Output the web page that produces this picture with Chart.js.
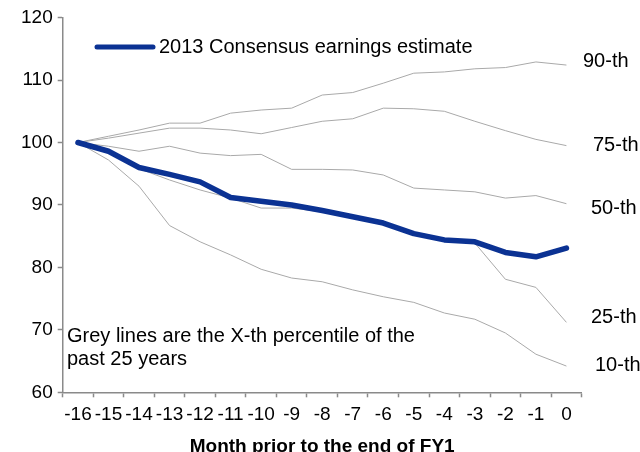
<!DOCTYPE html>
<html>
<head>
<meta charset="utf-8">
<script src="https://cdn.jsdelivr.net/npm/chart.js@4.4.1/dist/chart.umd.min.js"></script>
<style>
  html, body { margin: 0; padding: 0; background: #ffffff; }
  #wrap { width: 640px; height: 452px; }
</style>
</head>
<body>
<div id="wrap"><canvas id="c" width="640" height="452"></canvas></div>
<script>
// ---- Data ----
const months = ['-16','-15','-14','-13','-12','-11','-10','-9','-8','-7','-6','-5','-4','-3','-2','-1','0'];
const consensus2013 = [100, 98.6, 96.0, 94.9, 93.7, 91.2, 90.6, 90.0, 89.1, 88.1, 87.1, 85.4, 84.4, 84.1, 82.4, 81.7, 83.1];
const pct90 = [100, 101.0, 102.0, 103.1, 103.1, 104.7, 105.2, 105.5, 107.6, 108.0, 109.5, 111.1, 111.3, 111.8, 112.0, 112.9, 112.4];
const pct75 = [100, 100.7, 101.5, 102.3, 102.3, 102.0, 101.4, 102.4, 103.4, 103.8, 105.5, 105.4, 105.0, 103.4, 101.9, 100.5, 99.5];
const pct50 = [100, 99.4, 98.6, 99.4, 98.3, 97.9, 98.1, 95.7, 95.7, 95.6, 94.8, 92.7, 92.4, 92.1, 91.1, 91.5, 90.2];
const pct25 = [100, 98.3, 95.8, 94.0, 92.4, 91.1, 89.5, 89.5, 88.9, 87.9, 86.9, 85.2, 84.3, 83.9, 78.1, 76.8, 71.2];
const pct10 = [100, 97.2, 93.0, 86.7, 84.1, 82.0, 79.7, 78.3, 77.7, 76.4, 75.3, 74.4, 72.7, 71.7, 69.5, 66.1, 64.2];
const percentileNames = ['90-th', '75-th', '50-th', '25-th', '10-th'];
const legendText = '2013 Consensus earnings estimate';
const noteLines = ['Grey lines are the X-th percentile of the', 'past 25 years'];
const xTitle = 'Month prior to the end of FY1';
const yMin = 60, yMax = 120, yStep = 10;

// ---- Styles ----
const FONT = '"Liberation Sans", Arial, Helvetica, sans-serif';
const BLUE = '#0b3293';
const GREY = '#a9a9a9';
const AXIS = '#8a8a8a';

const greySet = (data) => ({
  data, borderColor: GREY, borderWidth: 1, pointRadius: 0, tension: 0, fill: false
});

// right-side label placement (value units on y scale, pixel x)
const labelPos = [
  { v: 112.9, x: 583 },
  { v: 99.5,  x: 593 },
  { v: 89.5,  x: 591 },
  { v: 72.0,  x: 591 },
  { v: 64.3,  x: 595 }
];

const annotations = {
  id: 'annotations',
  afterDatasetsDraw(chart) {
    const ctx = chart.ctx;
    const ys = chart.scales.y;
    ctx.save();
    ctx.fillStyle = '#000';
    ctx.textBaseline = 'middle';
    ctx.textAlign = 'left';
    ctx.font = '20px ' + FONT;
    percentileNames.forEach((t, i) => {
      ctx.fillText(t, labelPos[i].x, ys.getPixelForValue(labelPos[i].v));
    });
    // legend
    ctx.strokeStyle = BLUE;
    ctx.lineWidth = 5;
    ctx.lineCap = 'round';
    ctx.beginPath();
    ctx.moveTo(97, 47);
    ctx.lineTo(153, 47);
    ctx.stroke();
    ctx.fillText(legendText, 159, 47);
    // note
    ctx.fillText(noteLines[0], 67, 336.5);
    ctx.fillText(noteLines[1], 67, 359);
    ctx.restore();
  }
};

new Chart(document.getElementById('c'), {
  type: 'line',
  data: {
    labels: months,
    datasets: [
      { label: legendText, data: consensus2013, borderColor: BLUE, borderWidth: 5.5,
        pointRadius: 0, tension: 0, fill: false, borderJoinStyle: 'round', borderCapStyle: 'round' },
      greySet(pct90), greySet(pct75), greySet(pct50), greySet(pct25), greySet(pct10)
    ]
  },
  options: {
    responsive: false,
    animation: false,
    devicePixelRatio: 1,
    layout: { padding: { top: 17.6, right: 58.3, bottom: 0, left: 0 } },
    plugins: { legend: { display: false }, tooltip: { enabled: false } },
    scales: {
      x: {
        type: 'category',
        offset: true,
        grid: { display: true, drawOnChartArea: false, offset: true, drawTicks: true,
                tickLength: 5, color: AXIS, tickWidth: 1.5 },
        border: { display: true, color: AXIS, width: 1.5 },
        ticks: { autoSkip: false, maxRotation: 0, minRotation: 0, padding: 6,
                 color: '#000', font: { family: FONT, size: 19 } },
        title: { display: true, text: xTitle, color: '#000',
                 font: { family: FONT, size: 19, weight: 'bold' },
                 padding: { top: 0, bottom: -6 } },
        afterFit(s) { s.height = 59.7; }
      },
      y: {
        min: yMin, max: yMax,
        grid: { display: true, drawOnChartArea: false, drawTicks: true,
                tickLength: 5, color: AXIS, tickWidth: 1.5 },
        border: { display: true, color: AXIS, width: 1.5 },
        ticks: { stepSize: yStep, padding: 5, color: '#000', font: { family: FONT, size: 19 } },
        afterFit(s) { s.width = 62.7; }
      }
    }
  },
  plugins: [annotations]
});
</script>
</body>
</html>
